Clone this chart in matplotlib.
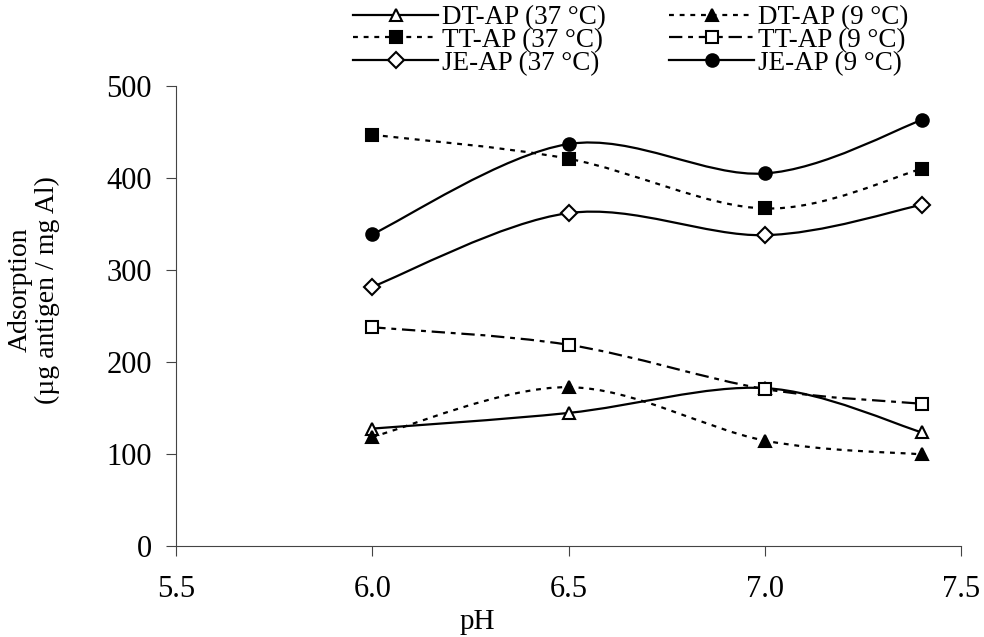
import matplotlib
matplotlib.use("Agg")
import matplotlib.pyplot as plt
import numpy as np
from matplotlib.lines import Line2D
from matplotlib.patches import PathPatch
from matplotlib.path import Path

plt.rcParams["font.family"] = ["Liberation Serif", "DejaVu Serif"]

ph = [6.0, 6.5, 7.0, 7.4]

dt_37 = [128, 145, 172, 124]
dt_9 = [119, 173, 115, 100]
tt_37 = [447, 421, 367, 410]
tt_9 = [238, 219, 171, 155]
je_37 = [282, 362, 338, 371]
je_9 = [339, 437, 405, 463]

labels = [
    "DT-AP (37 °C)", "TT-AP (37 °C)", "JE-AP (37 °C)",
    "DT-AP (9 °C)", "TT-AP (9 °C)", "JE-AP (9 °C)",
]

DOT = (0, (2.2, 2.6))
DASHDOT = (0, (6, 2.6, 2.2, 2.6))

# (values, linestyle, marker, filled) -- 37 °C column first, then 9 °C
series = [
    (dt_37, "-", "^", False),
    (tt_37, DOT, "s", True),
    (je_37, "-", "D", False),
    (dt_9, DOT, "^", True),
    (tt_9, DASHDOT, "s", False),
    (je_9, "-", "o", True),
]


def smooth_path(x, y):
    # cubic Bezier through the points, tangents from neighbouring points
    pts = np.column_stack([x, y]).astype(float)
    n = len(pts)
    verts = [pts[0]]
    codes = [Path.MOVETO]
    for i in range(n - 1):
        p0 = pts[max(i - 1, 0)]
        p1 = pts[i]
        p2 = pts[i + 1]
        p3 = pts[min(i + 2, n - 1)]
        verts += [p1 + (p2 - p0) / 6, p2 - (p3 - p1) / 6, p2]
        codes += [Path.CURVE4] * 3
    return Path(verts, codes)


fig = plt.figure(figsize=(9.84, 6.37), dpi=100)
ax = fig.add_axes([0.1789, 0.1421, 0.7977, 0.7229])

LW = 1.6
handles = []
for (vals, ls, mk, filled), lab in zip(series, labels):
    ax.add_patch(PathPatch(smooth_path(ph, vals), facecolor="none",
                           edgecolor="black", lw=LW, linestyle=ls,
                           capstyle="butt"))
    ms = 8 if mk == "D" else 9
    mfc = "black" if filled else "white"
    ax.plot(ph, vals, linestyle="none", marker=mk, ms=ms, mfc=mfc,
            mec="black", mew=1.5, zorder=3)
    handles.append(Line2D([], [], color="black", lw=LW, linestyle=ls,
                          marker=mk, ms=ms, mfc=mfc, mec="black", mew=1.5))

ax.set_xlim(5.5, 7.5)
ax.set_ylim(0, 500)
ax.set_xticks([5.5, 6.0, 6.5, 7.0, 7.5])
ax.set_xticklabels(["5.5", "6.0", "6.5", "7.0", "7.5"])
ax.set_yticks([0, 100, 200, 300, 400, 500])
ax.tick_params(direction="out", length=7.5, width=0.8, labelsize=22,
               color="#444444")
ax.tick_params(axis="x", pad=13)
ax.tick_params(axis="y", pad=10)
for side in ["top", "right"]:
    ax.spines[side].set_visible(False)
for side in ["left", "bottom"]:
    ax.spines[side].set_linewidth(0.8)
    ax.spines[side].set_color("#444444")

fig.text(34 / 984, 1 - 290 / 637, "Adsorption\n(µg antigen / mg Al)",
         rotation=90, ha="center", va="center", fontsize=20,
         linespacing=1.1)
fig.text(477 / 984, 1 - 622 / 637, "pH", ha="center", va="center",
         fontsize=21)

fig.legend(handles, labels, ncol=2, loc="upper left",
           bbox_to_anchor=(353 / 984, 1 - 5 / 637), frameon=False,
           fontsize=19.5, handlelength=3.15, handletextpad=0.12,
           columnspacing=2.35, labelspacing=-0.08, borderpad=0,
           borderaxespad=0)

fig.savefig("out.png", dpi=100)
